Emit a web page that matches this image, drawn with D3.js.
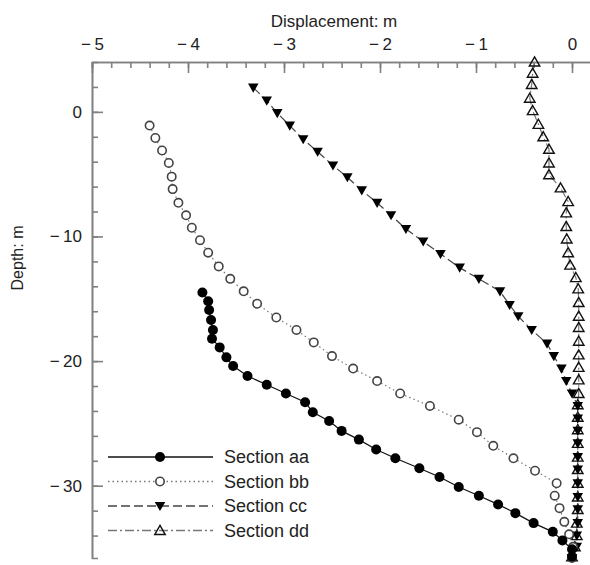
<!DOCTYPE html>
<html>
<head>
<meta charset="utf-8">
<script src="https://cdn.jsdelivr.net/npm/d3@7"></script>
<style>
    body { margin: 0; background: #fff; }
    text { font-family: "Liberation Sans", Arial, sans-serif; fill: #222; }
</style>
</head>
<body>
<div id="chart"></div>
<script>
// values (depth in m, displacement in m)
var aaDepth = [-14.5, -15.2, -15.9, -16.7, -17.5, -18.2, -18.9, -19.7, -20.4, -21.2, -21.9, -22.6, -23.3, -24.1, -24.8,
    -25.6, -26.3, -27.1, -27.8, -28.6, -29.3, -30.1, -30.8, -31.5, -32.2, -33.0, -33.7, -34.4, -35.1, -35.7];
var aaDisp = [-3.85, -3.79, -3.78, -3.76, -3.74, -3.75, -3.67, -3.60, -3.53, -3.38, -3.18, -2.98, -2.78, -2.70, -2.53,
    -2.40, -2.22, -2.04, -1.84, -1.59, -1.38, -1.18, -0.97, -0.77, -0.59, -0.40, -0.20, -0.10, 0.0, 0.0];

var bbDepth = [-1.1, -2.1, -3.1, -4.1, -5.2, -6.2, -7.3, -8.3, -9.3, -10.3, -11.3, -12.4, -13.4, -14.4, -15.4, -16.5,
    -17.5, -18.5, -19.6, -20.6, -21.6, -22.6, -23.6, -24.7, -25.7, -26.8, -27.8, -28.8, -29.8, -30.8, -31.8, -32.9,
    -33.9, -34.9, -35.8];
var bbDisp = [-4.40, -4.34, -4.27, -4.20, -4.17, -4.16, -4.10, -4.02, -3.96, -3.875, -3.79, -3.68, -3.56, -3.42, -3.28, -3.08,
    -2.87, -2.69, -2.50, -2.28, -2.03, -1.79, -1.48, -1.18, -0.99, -0.82, -0.61, -0.385, -0.16, -0.18, -0.13, -0.08,
    -0.03, 0.01, 0.0];

var ccDepth = [1.95, 0.9, -0.1, -1.1, -2.2, -3.2, -4.3, -5.25, -6.3, -7.3, -8.3, -9.4, -10.4, -11.4, -12.5, -13.4,
    -14.4, -15.5, -16.4, -17.5, -18.6, -19.6, -20.6, -21.6, -22.6, -23.6, -24.6, -25.6, -26.6, -27.7, -28.7, -29.8,
    -30.9, -31.9, -33.0, -34.0, -34.9, -35.8];
var ccDisp = [-3.32, -3.18, -3.07, -2.94, -2.80, -2.65, -2.49, -2.34, -2.19, -2.03, -1.885, -1.73, -1.55, -1.37, -1.17, -0.97,
    -0.75, -0.65, -0.56, -0.42, -0.26, -0.19, -0.11, -0.06, 0.0, 0.06, 0.06, 0.06, 0.06, 0.06, 0.06, 0.06,
    0.06, 0.06, 0.06, 0.05, 0.05, 0.0];

var ddDepth = [4.0, 3.1, 2.2, 1.1, 0.1, -1.0, -2.0, -3.0, -4.1, -5.05, -6.1, -7.2, -8.1, -9.2, -10.2, -11.3, -12.3,
    -13.3, -14.2, -15.3, -16.4, -17.3, -18.4, -19.5, -20.5, -21.5, -22.6, -23.5, -24.5, -25.5, -26.6, -27.7, -28.7,
    -29.8, -30.9, -31.9, -33.0, -34.0, -34.9, -35.7];
var ddDisp = [-0.39, -0.41, -0.42, -0.44, -0.41, -0.35, -0.30, -0.24, -0.24, -0.24, -0.12, -0.04, -0.06, -0.06, -0.055, -0.04, -0.02,
    0.04, 0.065, 0.07, 0.07, 0.07, 0.07, 0.07, 0.07, 0.07, 0.07, 0.06, 0.06, 0.06, 0.06, 0.06, 0.06,
    0.06, 0.06, 0.06, 0.05, 0.05, 0.03, 0.0];

var legendLabels = ["Section aa", "Section bb", "Section cc", "Section dd"];
var xMajorTicks = [-5, -4, -3, -2, -1, 0];
var yMajorTicks = [0, -10, -20, -30];

var width = 590;
var height = 565;

var svg = d3.select("#chart")
    .append("svg")
    .attr("width", width)
    .attr("height", height);

// scales: displacement runs along the top, depth down the left side
var x = d3.scaleLinear().domain([-5, 0.2]).range([92, 591.2]);
var y = d3.scaleLinear().domain([4, -35.8]).range([62, 558]);

var axisColor = "#808080";

// integer labels, minus sign set a little apart from the digits like the original
function tickLabel(v) {
    return v < 0 ? "\u2212\u2009" + Math.abs(v) : String(v);
}

// minor ticks first, then the major ones with labels
var xMinor = d3.range(-5, 0.21, 0.2);
var yMinor = d3.range(2, -35, -2);

svg.append("g")
    .attr("transform", "translate(0," + y(4) + ")")
    .call(d3.axisTop(x).tickValues(xMinor).tickSize(-6).tickFormat(""));
svg.append("g")
    .attr("class", "xaxis")
    .attr("transform", "translate(0," + y(4) + ")")
    .call(d3.axisTop(x).tickValues(xMajorTicks).tickFormat(tickLabel)
        .tickSizeInner(-11).tickSizeOuter(0).tickPadding(12));

svg.append("g")
    .attr("transform", "translate(" + x(-5) + ",0)")
    .call(d3.axisLeft(y).tickValues(yMinor).tickSize(-6).tickFormat(""));
svg.append("g")
    .attr("class", "yaxis")
    .attr("transform", "translate(" + x(-5) + ",0)")
    .call(d3.axisLeft(y).tickValues(yMajorTicks).tickFormat(tickLabel)
        .tickSizeInner(-11).tickSizeOuter(0).tickPadding(10));

svg.selectAll(".domain, .tick line")
    .attr("stroke", axisColor)
    .attr("stroke-width", 1.6);
svg.selectAll(".tick text")
    .attr("fill", "#222")
    .style("font-size", "17px");

// axis titles
svg.append("text")
    .attr("x", 334)
    .attr("y", 27)
    .attr("text-anchor", "middle")
    .style("font-size", "17px")
    .text("Displacement: m");

svg.append("text")
    .attr("transform", "translate(23,258) rotate(-90)")
    .attr("text-anchor", "middle")
    .style("font-size", "16px")
    .text("Depth: m");

// one entry per series: how its line and markers look
var series = [
    { depth: aaDepth, disp: aaDisp, stroke: "#111", dash: null, marker: "circleFilled" },
    { depth: bbDepth, disp: bbDisp, stroke: "#777", dash: "1.5,3", marker: "circleOpen" },
    { depth: ccDepth, disp: ccDisp, stroke: "#444", dash: "9,4", marker: "triDown" },
    { depth: ddDepth, disp: ddDisp, stroke: "#777", dash: "9,3,2,3", marker: "triUp" }
];

var line = d3.line()
    .x(function(d) { return x(d[0]); })
    .y(function(d) { return y(d[1]); });

var triangle = d3.symbol().type(d3.symbolTriangle).size(48);

function drawMarker(g, kind, cx, cy) {
    if (kind === "circleFilled") {
        g.append("circle").attr("cx", cx).attr("cy", cy).attr("r", 5)
            .attr("fill", "#000");
    }
    if (kind === "circleOpen") {
        g.append("circle").attr("cx", cx).attr("cy", cy).attr("r", 4.2)
            .attr("fill", "#fff").attr("stroke", "#444").attr("stroke-width", 1.6);
    }
    if (kind === "triDown") {
        g.append("path").attr("d", triangle())
            .attr("transform", "translate(" + cx + "," + (cy - 1) + ") rotate(180)")
            .attr("fill", "#000");
    }
    if (kind === "triUp") {
        g.append("path").attr("d", triangle())
            .attr("transform", "translate(" + cx + "," + (cy + 1) + ")")
            .attr("fill", "none").attr("stroke", "#111").attr("stroke-width", 1.4);
    }
}

// draw in reverse so section aa ends up on top
series.slice().reverse().forEach(function(s) {
    var pts = s.depth.map(function(d, i) { return [s.disp[i], d]; });
    var g = svg.append("g");
    g.append("path")
        .datum(pts)
        .attr("d", line)
        .attr("fill", "none")
        .attr("stroke", s.stroke)
        .attr("stroke-width", 1.2)
        .attr("stroke-dasharray", s.dash);
    pts.forEach(function(p) {
        drawMarker(g, s.marker, x(p[0]), y(p[1]));
    });
});

// legend
var legend = svg.append("g");
series.forEach(function(s, i) {
    var ly = 457 + i * 24.5;
    legend.append("line")
        .attr("x1", 108).attr("x2", 213)
        .attr("y1", ly).attr("y2", ly)
        .attr("stroke", s.stroke)
        .attr("stroke-width", 1.3)
        .attr("stroke-dasharray", s.dash);
    drawMarker(legend, s.marker, 160, ly);
    legend.append("text")
        .attr("x", 224)
        .attr("y", ly)
        .attr("dy", "0.35em")
        .style("font-size", "18px")
        .text(legendLabels[i]);
});
</script>
</body>
</html>
